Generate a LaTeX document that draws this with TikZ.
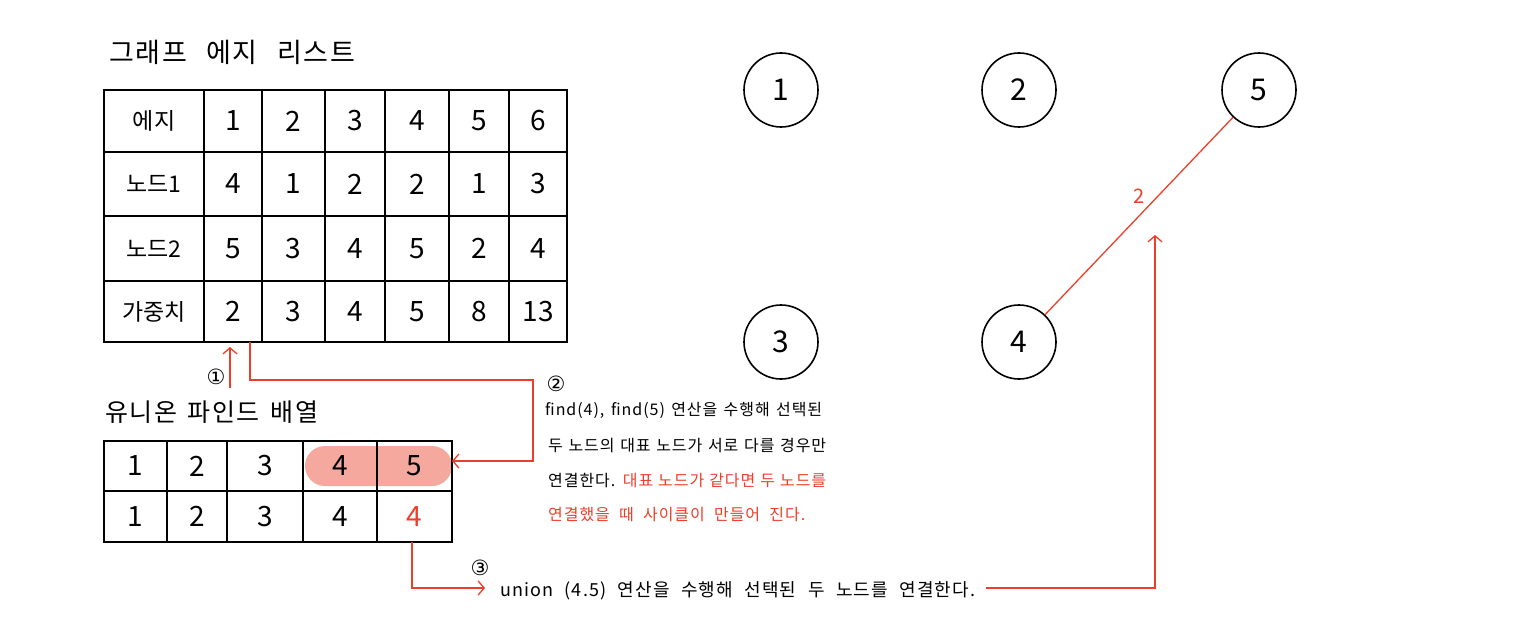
\documentclass[tikz,border=0pt]{standalone}
\usepackage{fontspec}
\setmainfont{Noto Sans CJK KR}
\newfontfamily\notefont[LetterSpace=6]{Noto Sans CJK KR}
\newfontfamily\symfont{DejaVu Sans}
\usetikzlibrary{arrows.meta}
\definecolor{myred}{RGB}{236,62,42}
\definecolor{hlfill}{RGB}{244,168,158}
\newcommand\tc[6]{\node[cellbox, minimum width={(#3)-(#2)}, minimum height={(#5)-(#4)}] (#1) at ({((#2)+(#3))/2},{((#4)+(#5))/2}) {#6};}
\newcommand\spread[2]{\makebox[#1pt][s]{#2}}
\begin{document}
\begin{tikzpicture}[x=1pt,y=-1pt,
  cellbox/.style={draw, line width=1.6pt, inner sep=0pt, outer sep=0pt, font=\fontsize{28}{28}\selectfont},
  vtx/.style={circle, draw, line width=1.6pt, minimum size=74pt, inner sep=0pt, font=\fontsize{30}{30}\selectfont},
  redline/.style={draw=myred, line width=1.3pt},
  redarrow/.style={redline, -{Straight Barb[length=6pt,width=14pt]}},
  note/.style={font=\notefont\fontsize{16}{16}\selectfont, anchor=west, inner sep=0pt},
  title/.style={font=\notefont\fontsize{27}{27}\selectfont, anchor=west, inner sep=0pt},
  num/.style={font=\symfont\fontsize{21}{21}\selectfont, inner sep=0pt}
]
\useasboundingbox (0,0) rectangle (1536,642);

% titles
\node[title] (title1) at (109,52) {\spread{246}{그래프 에지 리스트}};
\node[title, font=\notefont\fontsize{25}{25}\selectfont] (title2) at (105,412) {\spread{213}{유니온 파인드 배열}};

% edge list table
\tc{e00}{104}{204}{90}{152}{\fontsize{23}{23}\selectfont 에지}
\tc{e01}{204}{262}{90}{152}{1}
\tc{e02}{262}{325}{90}{152}{2}
\tc{e03}{325}{385}{90}{152}{3}
\tc{e04}{385}{449}{90}{152}{4}
\tc{e05}{449}{509}{90}{152}{5}
\tc{e06}{509}{567}{90}{152}{6}
\tc{e10}{104}{204}{152}{216}{\fontsize{23}{23}\selectfont 노드1}
\tc{e11}{204}{262}{152}{216}{4}
\tc{e12}{262}{325}{152}{216}{1}
\tc{e13}{325}{385}{152}{216}{2}
\tc{e14}{385}{449}{152}{216}{2}
\tc{e15}{449}{509}{152}{216}{1}
\tc{e16}{509}{567}{152}{216}{3}
\tc{e20}{104}{204}{216}{281}{\fontsize{23}{23}\selectfont 노드2}
\tc{e21}{204}{262}{216}{281}{5}
\tc{e22}{262}{325}{216}{281}{3}
\tc{e23}{325}{385}{216}{281}{4}
\tc{e24}{385}{449}{216}{281}{5}
\tc{e25}{449}{509}{216}{281}{2}
\tc{e26}{509}{567}{216}{281}{4}
\tc{e30}{104}{204}{281}{342}{\fontsize{23}{23}\selectfont 가중치}
\tc{e31}{204}{262}{281}{342}{2}
\tc{e32}{262}{325}{281}{342}{3}
\tc{e33}{325}{385}{281}{342}{4}
\tc{e34}{385}{449}{281}{342}{5}
\tc{e35}{449}{509}{281}{342}{8}
\tc{e36}{509}{567}{281}{342}{13}

% union-find table
\node[fill=hlfill, rounded corners=20pt, minimum width=147pt, minimum height=40pt, inner sep=0pt] (hl) at (378.5,466) {};
\tc{u11}{104}{167}{441}{491}{1}
\tc{u12}{167}{227}{441}{491}{2}
\tc{u13}{227}{303}{441}{491}{3}
\tc{u14}{303}{377}{441}{491}{4}
\tc{u15}{377}{452}{441}{491}{5}
\tc{u21}{104}{167}{491}{542}{1}
\tc{u22}{167}{227}{491}{542}{2}
\tc{u23}{227}{303}{491}{542}{3}
\tc{u24}{303}{377}{491}{542}{4}
\tc{u25}{377}{452}{491}{542}{\textcolor{myred}{4}}

% graph
\node[vtx] (n1) at (781,90) {1};
\node[vtx] (n2) at (1019,90) {2};
\node[vtx] (n5) at (1259,90) {5};
\node[vtx] (n3) at (781,342) {3};
\node[vtx] (n4) at (1019,342) {4};
\draw[redline] (n4) -- (n5) node[pos=0.6, left=13pt, text=myred, font=\fontsize{20}{20}\selectfont, inner sep=0pt] (w45) {2};
\coordinate (edgept) at (1155,235);

% notes
\node[note] (t2a) at (545,410) {\spread{277}{find(4), find(5) 연산을 수행해 선택된}};
\node[note] (t2b) at (548,446) {\spread{278}{두 노드의 대표 노드가 서로 다를 경우만}};
\node[note] (t2c) at (548,481) {\spread{278}{연결한다. \textcolor{myred}{대표} \textcolor{myred}{노드가} \textcolor{myred}{같다면} \textcolor{myred}{두} \textcolor{myred}{노드를}}};
\node[note, text=myred] (t2d) at (548,515) {\spread{257}{연결했을 때 사이클이 만들어 진다.}};
\node[note, font=\notefont\fontsize{18}{18}\selectfont] (t3) at (500,591) {\spread{475}{union (4.5) 연산을 수행해 선택된 두 노드를 연결한다.}};

% step labels
\node[num] (l1) at (216,377) {①};
\node[num] (l2) at (556,384) {②};
\node[num] (l3) at (480,568) {③};

% arrows
\coordinate (a1s) at (230,388);
\draw[redarrow] (a1s) -- ([yshift=-5pt]a1s |- e31.south);
\coordinate (a2s) at ([xshift=17pt]e31.south);
\coordinate (a2b) at (533,380);
\draw[redarrow] (a2s) |- (a2b) |- ([yshift=5pt]u15.east);
\coordinate (a3b) at (412,588);
\draw[redarrow] (a3b |- u25.south) -- (a3b) -- ([xshift=-15pt]a3b -| t3.west);
\coordinate (a4s) at ([xshift=11pt]t3.east |- a3b);
\draw[redarrow] (a4s) -| (edgept);
\end{tikzpicture}
\end{document}
